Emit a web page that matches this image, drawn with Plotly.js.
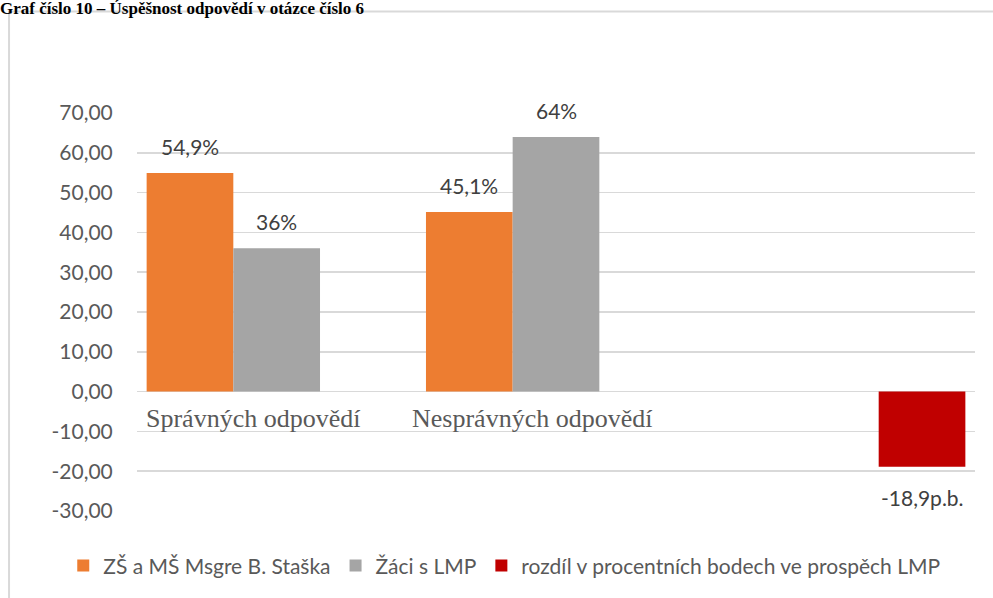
<!DOCTYPE html>
<html>
<head>
<meta charset="utf-8">
<script src="https://cdn.plot.ly/plotly-3.0.1.min.js"></script>
<style>html,body{margin:0;padding:0;background:#fff;}#chart{width:993px;height:598px;}</style>
</head>
<body>
<div id="chart"></div>
<script>
const chartTitle = 'Graf číslo 10 – Úspěšnost odpovědí v otázce číslo 6';
const categories = ['Správných odpovědí', 'Nesprávných odpovědí', 'rozdíl'];
const categoryLabels = ['Správných odpovědí', 'Nesprávných odpovědí', ''];
const seriesNames = ['ZŠ a MŠ Msgre B. Staška', 'Žáci s LMP', 'rozdíl v procentních bodech ve prospěch LMP'];
const skolaValues = [54.9, 45.1, null];
const lmpValues = [36, 64, null];
const rozdilValues = [null, null, -18.9];
const skolaLabels = ['54,9%', '45,1%', ''];
const lmpLabels = ['36%', '64%', ''];
const rozdilLabels = ['', '', '-18,9p.b.'];
const yTickValues = [-30, -20, -10, 0, 10, 20, 30, 40, 50, 60, 70];
const yTickLabels = ['-30,00', '-20,00', '-10,00', '0,00', '10,00', '20,00', '30,00', '40,00', '50,00', '60,00', '70,00'];

const colors = ['#ED7D31', '#A5A5A5', '#C00000'];
const values = [skolaValues, lmpValues, rozdilValues];
const labels = [skolaLabels, lmpLabels, rozdilLabels];

const traces = values.map((v, i) => ({
  type: 'bar',
  name: seriesNames[i],
  x: categories,
  y: v,
  marker: {color: colors[i], line: {width: 0}},
  hoverinfo: 'none'
}));

const barPx = 86.7;
const annotations = [];
values.forEach((v, s) => {
  v.forEach((val, c) => {
    if (val === null || labels[s][c] === '') return;
    const pos = val >= 0;
    annotations.push({
      x: categories[c], y: val, xref: 'x', yref: 'y',
      text: labels[s][c], showarrow: false,
      xanchor: 'center', yanchor: pos ? 'bottom' : 'top',
      xshift: (s - 1) * barPx, yshift: pos ? 12 : -16,
      font: {family: 'Lato', size: 21, color: '#404040'}
    });
  });
});
categoryLabels.forEach((lab, c) => {
  if (!lab) return;
  annotations.push({
    x: categories[c], y: 0, xref: 'x', yref: 'y',
    text: lab, showarrow: false, xanchor: 'center', yanchor: 'top',
    xshift: -24, yshift: -10,
    font: {family: 'Liberation Serif', size: 26, color: '#595959'}
  });
});

const layout = {
  width: 993, height: 598,
  margin: {l: 137, r: 18, t: 113, b: 85},
  paper_bgcolor: '#ffffff', plot_bgcolor: '#ffffff',
  title: {
    text: '<b>' + chartTitle + '</b>',
    font: {family: 'Liberation Serif', size: 17, color: '#000000'},
    x: 0, xref: 'container', xanchor: 'left',
    y: 0.9858, yref: 'container', yanchor: 'middle', pad: {l: 0, t: 0}
  },
  barmode: 'group', bargap: 0.069, bargroupgap: 0,
  xaxis: {
    type: 'category', categoryorder: 'array', categoryarray: categories,
    showticklabels: false, showgrid: false, zeroline: false, showline: false, ticks: ''
  },
  yaxis: {
    range: [-30, 70], tickvals: yTickValues, ticktext: yTickLabels,
    showgrid: true, gridcolor: '#d9d9d9', gridwidth: 1.5,
    zeroline: true, zerolinecolor: '#d9d9d9', zerolinewidth: 1.5,
    showline: false, ticks: 'outside', ticklen: 19, tickcolor: 'rgba(0,0,0,0)',
    tickfont: {family: 'Lato', size: 21, color: '#595959'}
  },
  showlegend: true,
  legend: {
    orientation: 'h', x: -0.088, xanchor: 'left', y: -0.1375, yanchor: 'middle',
    font: {family: 'Lato', size: 21, color: '#595959'},
    itemwidth: 30, traceorder: 'normal', bgcolor: 'rgba(0,0,0,0)'
  },
  annotations: annotations,
  shapes: [{
    type: 'rect', xref: 'paper', yref: 'paper',
    x0: -0.1527, x1: 1.05, y0: -0.3, y1: 1.255,
    line: {color: '#d9d9d9', width: 2}, fillcolor: 'rgba(0,0,0,0)', layer: 'below'
  }]
};

Plotly.newPlot('chart', traces, layout, {displayModeBar: false, staticPlot: true});
</script>
</body>
</html>
